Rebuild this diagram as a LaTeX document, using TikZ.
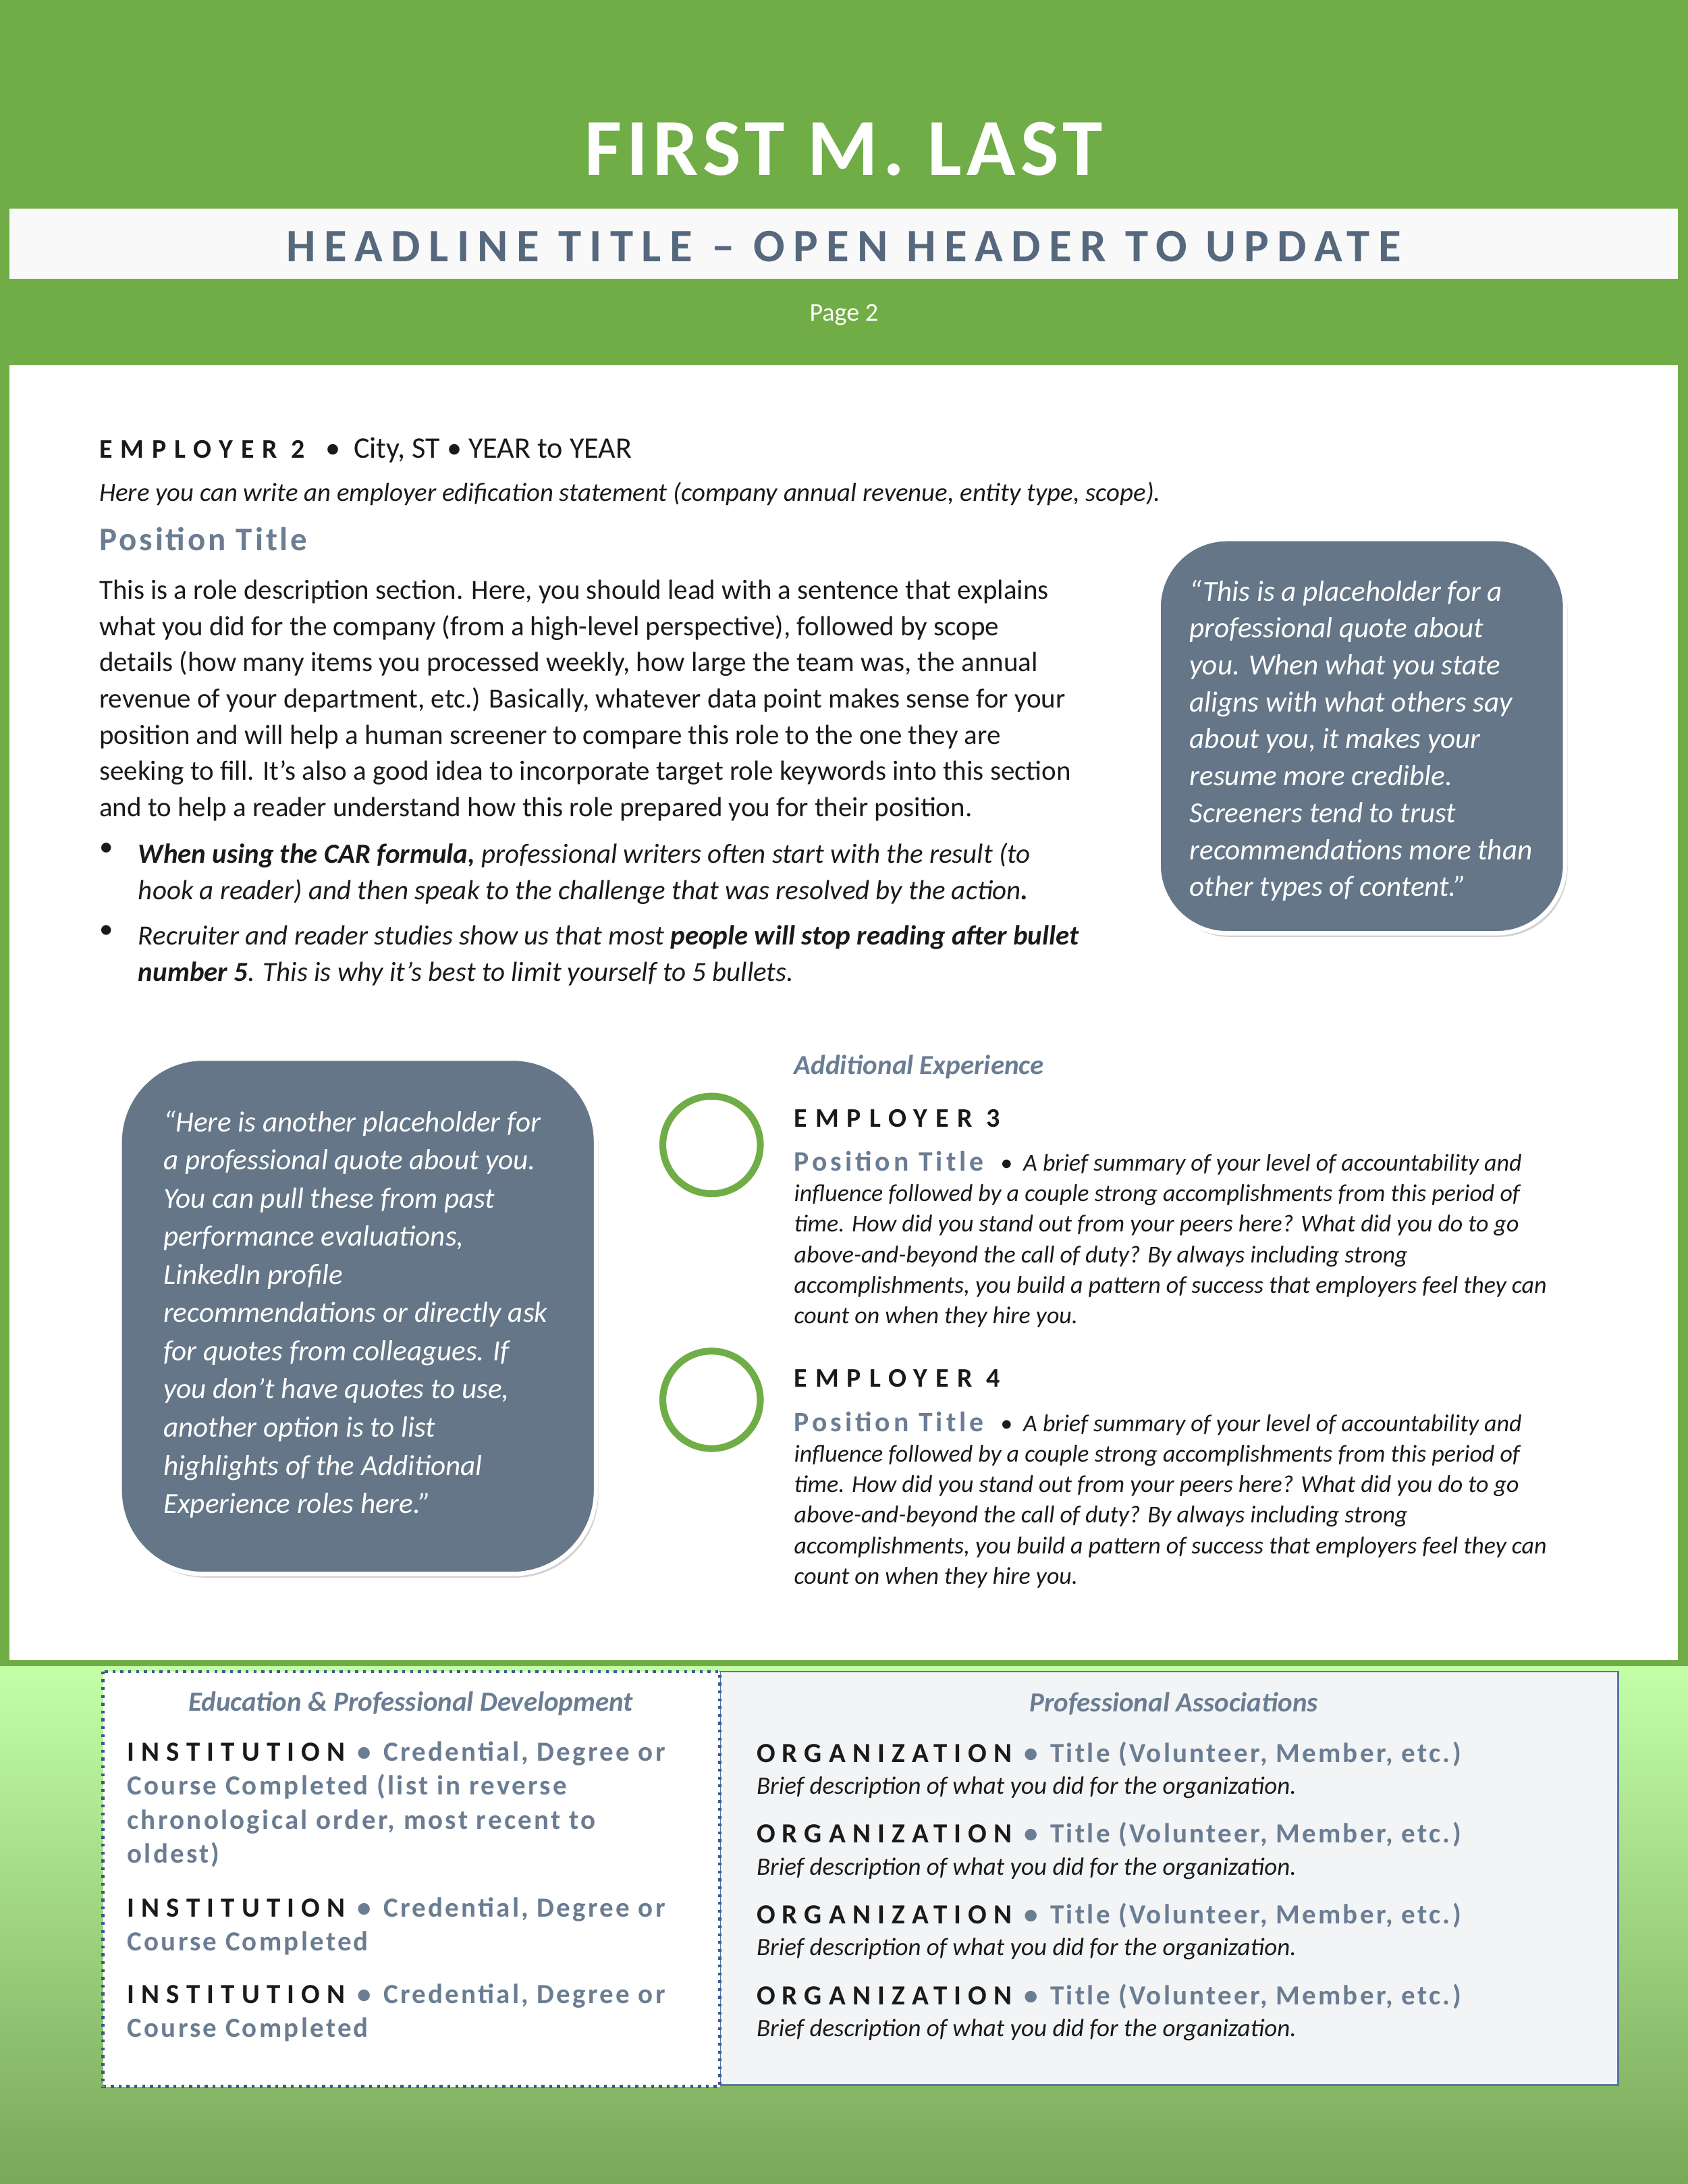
\documentclass[tikz,border=0pt]{standalone}
\usepackage{fontspec}
\setmainfont{Carlito}
\usetikzlibrary{shadows}
\definecolor{grn}{HTML}{70AD47}
\definecolor{slate}{HTML}{647687}
\definecolor{stx}{HTML}{6A7D93}
\definecolor{hdl}{HTML}{56687D}
\definecolor{ink}{HTML}{1A1A1A}
\definecolor{dotb}{HTML}{3A5A90}
\newcommand\fs[2]{\fontsize{#1}{#2}\selectfont}
\newcommand\spc[2]{{\addfontfeature{LetterSpace=#1}#2}}
\newcommand\bsep{\hspace{5pt}{\color{stx}•}\hspace{5pt}}
\tikzset{
  txt/.style={anchor=north west,inner sep=0,align=left,text=ink},
  quote/.style={fill=slate,draw=white,line width=1.8pt,drop shadow={opacity=0.35,shadow xshift=1pt,shadow yshift=-1.5pt}},
  ring/.style={draw=grn,line width=2.8pt},
}
\begin{document}
\begin{tikzpicture}[x=0.02cm,y=-0.02cm]
\useasboundingbox (0,0) rectangle (1212,1568);
% background
\fill[grn] (0,0) rectangle (1212,1195);
\fill[white] (7,262) rectangle (1205,1193);
\shade[top color={rgb,255:red,196;green,255;blue,168}, bottom color={rgb,255:red,120;green,168;blue,88}] (0,1195) rectangle (1212,1568);
\fill[grn] (0,1192) rectangle (1212,1196);
% header
\fill[white!95!gray] (7,150) rectangle (1205,200);
\node (name) at (606,107) {\color{white}\bfseries\fs{33}{36}\spc{6}{FIRST M. LAST}};
\node (head) at (606,177) {\color{hdl}\bfseries\fs{19}{20}\spc{18}{HEADLINE TITLE – OPEN HEADER TO UPDATE}};
\node (page) at (606,226) {\color{white}\fs{10.5}{12}Page 2};
% employer 2
\node[txt,font=\fs{12.2}{14}] (e2) at (71,314) {{\fs{11}{14}\bfseries\spc{30}{EMPLOYER 2}}\ \ \ •\ \ City, ST • YEAR to YEAR};
\node[txt,font=\fs{10.7}{13}\itshape] (ed) at (71,346) {Here you can write an employer edification statement (company annual revenue, entity type, scope).};
\node[txt] (pt) at (71,378) {\color{stx}\bfseries\fs{13.5}{15}\spc{8}{Position Title}};
\node[txt,font=\fs{11.3}{14.8}] (para) at (71,416) {This is a role description section. Here, you should lead with a sentence that explains\\
what you did for the company (from a high-level perspective), followed by scope\\
details (how many items you processed weekly, how large the team was, the annual\\
revenue of your department, etc.) Basically, whatever data point makes sense for your\\
position and will help a human screener to compare this role to the one they are\\
seeking to fill. It’s also a good idea to incorporate target role keywords into this section\\
and to help a reader understand how this role prepared you for their position.};
\node[txt,font=\fs{11.3}{14.8}] (b1d) at (71,605) {•};
\node[txt,font=\fs{11.3}{14.8}\itshape] (b1) at (99,605) {\textbf{When using the CAR formula,} professional writers often start with the result (to\\
hook a reader) and then speak to the challenge that was resolved by the action\textbf{.}};
\node[txt,font=\fs{11.3}{14.8}] (b2d) at (71,664) {•};
\node[txt,font=\fs{11.3}{14.8}\itshape] (b2) at (99,664) {Recruiter and reader studies show us that most \textbf{people will stop reading after bullet}\\
\textbf{number 5}. This is why it’s best to limit yourself to 5 bullets.};
% quote 1
\draw[quote,rounded corners=28pt] (832,387) rectangle (1124,670);
\node[txt,text=white,font=\fs{11.9}{15.1}\itshape] (q1) at (854,416) {“This is a placeholder for a\\
professional quote about\\
you. When what you state\\
aligns with what others say\\
about you, it makes your\\
resume more credible.\\
Screeners tend to trust\\
recommendations more than\\
other types of content.”};
% quote 2
\draw[quote,rounded corners=34pt] (86,760) rectangle (428,1130);
\node[txt,text=white,font=\fs{11.9}{15.6}\itshape] (q2) at (117,797) {“Here is another placeholder for\\
a professional quote about you.\\
You can pull these from past\\
performance evaluations,\\
LinkedIn profile\\
recommendations or directly ask\\
for quotes from colleagues. If\\
you don’t have quotes to use,\\
another option is to list\\
highlights of the Additional\\
Experience roles here.”};
% additional experience
\node[txt,text=stx,font=\fs{11.3}{13}\bfseries\itshape] (ae) at (570,757) {Additional Experience};
\draw[ring] (511,822) circle (35);
\draw[ring] (511,1005) circle (35);
\node[txt] (e3) at (570,796) {\fs{11}{14}\bfseries\spc{30}{EMPLOYER 3}};
\node[txt,font=\fs{9.9}{12.5}\itshape] (p3) at (570,826) {{\upshape\color{stx}\bfseries\fs{11.5}{12.5}\spc{12}{Position Title}}\ \ \ •\ \ A brief summary of your level of accountability and\\
influence followed by a couple strong accomplishments from this period of\\
time. How did you stand out from your peers here? What did you do to go\\
above-and-beyond the call of duty? By always including strong\\
accomplishments, you build a pattern of success that employers feel they can\\
count on when they hire you.};
\node[txt] (e4) at (570,983) {\fs{11}{14}\bfseries\spc{30}{EMPLOYER 4}};
\node[txt,font=\fs{9.9}{12.5}\itshape] (p4) at (570,1013) {{\upshape\color{stx}\bfseries\fs{11.5}{12.5}\spc{12}{Position Title}}\ \ \ •\ \ A brief summary of your level of accountability and\\
influence followed by a couple strong accomplishments from this period of\\
time. How did you stand out from your peers here? What did you do to go\\
above-and-beyond the call of duty? By always including strong\\
accomplishments, you build a pattern of success that employers feel they can\\
count on when they hire you.};
% bottom boxes
\draw[fill={rgb,255:red,242;green,244;blue,246},draw={rgb,255:red,90;green,120;blue,160},line width=0.7pt] (517,1200) rectangle (1162,1497);
\draw[fill=white,draw=dotb,line width=1.2pt,dotted] (74,1200) rectangle (517,1498);
\node[text=stx,font=\fs{11.3}{13}\bfseries\itshape] (edt) at (295,1223) {Education \& Professional Development};
\node[text=stx,font=\fs{11.3}{13}\bfseries\itshape] (pat) at (843,1223) {Professional Associations};
\node[txt,font=\fs{11.3}{13.9}\bfseries] (i1) at (91,1250) {\spc{25}{INSTITUTION}\bsep{\color{stx}\spc{8}{Credential, Degree or}}\\
{\color{stx}\spc{8}{Course Completed (list in reverse}}\\
{\color{stx}\spc{8}{chronological order, most recent to}}\\
{\color{stx}\spc{8}{oldest)}}};
\node[txt,font=\fs{11.3}{13.9}\bfseries] (i2) at (91,1362) {\spc{25}{INSTITUTION}\bsep{\color{stx}\spc{8}{Credential, Degree or}}\\
{\color{stx}\spc{8}{Course Completed}}};
\node[txt,font=\fs{11.3}{13.9}\bfseries] (i3) at (91,1424) {\spc{25}{INSTITUTION}\bsep{\color{stx}\spc{8}{Credential, Degree or}}\\
{\color{stx}\spc{8}{Course Completed}}};
\foreach \n/\y in {o1/1250,o2/1308,o3/1366,o4/1424}{
\node[txt,font=\fs{11.3}{13.1}] (\n) at (543,\y) {{\bfseries\spc{25}{ORGANIZATION}\bsep{\color{stx}\spc{8}{Title (Volunteer, Member, etc.)}}}\\
{\fs{10.2}{13.1}\itshape Brief description of what you did for the organization.}};
}
\end{tikzpicture}
\end{document}
